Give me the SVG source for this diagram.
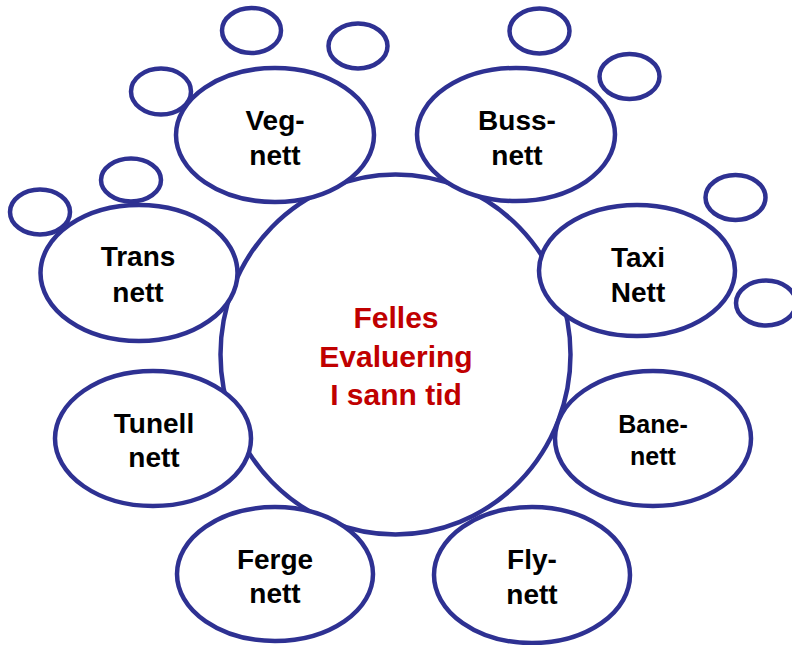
<svg xmlns="http://www.w3.org/2000/svg" width="792" height="645" viewBox="0 0 792 645">
<style>
ellipse{fill:#fff;stroke:#2E3192;stroke-width:4.5}
text{font-family:"Liberation Sans",Arial,sans-serif;font-weight:bold;text-anchor:middle;fill:#000;font-size:28px}
.c{fill:#C00000;font-size:30px}
.s{font-size:25px}
</style>
<rect width="792" height="645" fill="#fff"/>
<g id="bubbles">
<ellipse cx="251.5" cy="30.5" rx="29.5" ry="22.5"/>
<ellipse cx="358" cy="46" rx="29.5" ry="22.5"/>
<ellipse cx="161" cy="91.5" rx="30" ry="23"/>
<ellipse cx="539.5" cy="31" rx="30" ry="22.5"/>
<ellipse cx="629.5" cy="76.5" rx="30" ry="22.5"/>
<ellipse cx="131" cy="180" rx="30" ry="21.5"/>
<ellipse cx="40" cy="212" rx="30" ry="22.5"/>
<ellipse cx="735.5" cy="197.5" rx="30" ry="22.5"/>
<ellipse cx="766" cy="303" rx="30" ry="22.5"/>
</g>
<g id="center">
<ellipse cx="395.5" cy="354.5" rx="175" ry="180"/>
<text class="c" x="396" y="328">Felles</text>
<text class="c" x="396" y="366.5">Evaluering</text>
<text class="c" x="396" y="405">I sann tid</text>
</g>
<g id="veg"><ellipse cx="275" cy="135" rx="99" ry="67"/><text x="275" y="130">Veg-</text><text x="275" y="165">nett</text></g>
<g id="buss"><ellipse cx="516" cy="134.5" rx="99" ry="66.5"/><text x="517" y="130">Buss-</text><text x="517" y="165">nett</text></g>
<g id="trans"><ellipse cx="139" cy="273" rx="98.5" ry="68"/><text x="138" y="266">Trans</text><text x="138" y="302">nett</text></g>
<g id="taxi"><ellipse cx="637" cy="270.5" rx="98" ry="65.5"/><text x="638" y="267">Taxi</text><text x="638" y="302">Nett</text></g>
<g id="tunell"><ellipse cx="153" cy="438.5" rx="98" ry="67.5"/><text x="154" y="433">Tunell</text><text x="154" y="467">nett</text></g>
<g id="bane"><ellipse cx="653" cy="438.5" rx="98" ry="67.5"/><text class="s" x="653" y="433">Bane-</text><text class="s" x="653" y="465">nett</text></g>
<g id="ferge"><ellipse cx="275" cy="574" rx="98" ry="67"/><text x="275" y="569">Ferge</text><text x="275" y="603">nett</text></g>
<g id="fly"><ellipse cx="532" cy="575" rx="98" ry="68"/><text x="532" y="569">Fly-</text><text x="532" y="604">nett</text></g>
<g id="connectors"/>
</svg>
